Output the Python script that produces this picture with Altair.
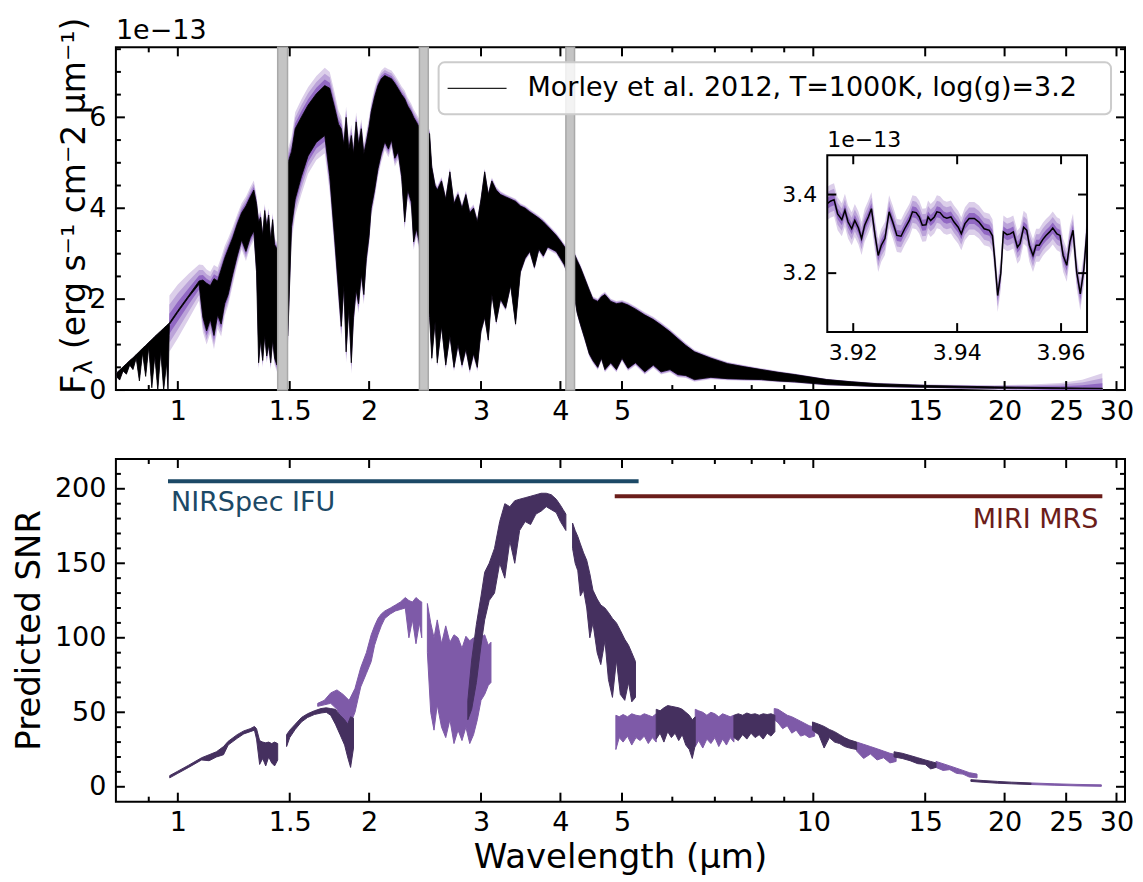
import altair as alt
import pandas as pd

# ---------------- layout / style constants ----------------
W, H = 1010, 343
GAP = 69
TICK_MAJ, TICK_MIN = 9, 5
FONT = "DejaVu Sans"
C_BAND3, C_BAND2, C_BAND1 = "#dccfea", "#bba3d9", "#9168c3"
C_SNR_DARK, C_SNR_LIGHT = "#45305f", "#7e5aa8"
C_GAP_FILL, C_GAP_EDGE = "#c4c4c4", "#a9a9a9"

# ---------------- axes values ----------------
x_domain = [0.799, 30.94]
x_major = [1, 1.5, 2, 3, 4, 5, 10, 15, 20, 25, 30]
x_minor = [0.9, 6, 7, 8, 9]
flux_domain = [0, 7.54]
flux_major = [0, 2, 4, 6]
flux_minor = [0.5, 1, 1.5, 2.5, 3, 3.5, 4.5, 5, 5.5, 6.5, 7, 7.5]
snr_domain = [-10, 220]
snr_major = [0, 50, 100, 150, 200]
snr_minor = [10, 20, 30, 40, 60, 70, 80, 90, 110, 120, 130, 140, 160, 170, 180, 190, 210]

# ---------------- model spectrum envelope (units of 1e-13) ----------------
spec_wl = [
    0.800, 0.810, 0.820, 0.830, 0.840, 0.850, 0.860, 0.870, 0.880, 0.890,
    0.900, 0.910, 0.920, 0.930, 0.940, 0.950, 0.960, 0.965, 0.969,
    0.970, 1.000, 1.040, 1.080, 1.095, 1.110, 1.125, 1.140, 1.155, 1.170,
    1.185, 1.200, 1.220, 1.240, 1.260, 1.280, 1.300, 1.317, 1.330, 1.340,
    1.350, 1.360, 1.370, 1.380, 1.390, 1.400, 1.410, 1.420, 1.432,
    1.490, 1.510, 1.530, 1.565, 1.603, 1.652, 1.703, 1.734, 1.766, 1.790,
    1.808, 1.825, 1.840, 1.858, 1.875, 1.890, 1.908, 1.925, 1.944, 1.962,
    1.980, 2.000, 2.015, 2.040, 2.065, 2.090, 2.117, 2.145, 2.169, 2.195,
    2.222, 2.250, 2.275, 2.300, 2.330, 2.350, 2.373, 2.395,
    2.490, 2.510, 2.540, 2.560, 2.600, 2.640, 2.680, 2.720, 2.760, 2.800,
    2.840, 2.880, 2.920, 2.960, 3.000, 3.040, 3.080, 3.120, 3.170, 3.220,
    3.280, 3.340, 3.400, 3.460, 3.520, 3.580, 3.640, 3.700, 3.760, 3.820,
    3.880, 3.940, 4.000, 4.060,
    4.215, 4.250, 4.300, 4.370, 4.440, 4.500, 4.580, 4.640, 4.700, 4.800,
    4.900, 5.000, 5.110, 5.250, 5.430, 5.600, 5.760, 5.950, 6.120, 6.300,
    6.500, 6.900, 7.330, 7.800, 8.280, 8.800, 9.340, 10.50, 11.50, 12.60,
    15.10, 19.30, 22.00, 24.50, 26.50, 28.50,
]
spec_hi = [
    0.37, 0.44, 0.51, 0.58, 0.65, 0.71, 0.78, 0.85, 0.92, 0.98,
    1.05, 1.11, 1.18, 1.24, 1.30, 1.36, 1.42, 1.45, 1.47,
    1.48, 1.75, 2.08, 2.40, 2.42, 2.35, 2.30, 2.45, 2.40, 2.65,
    2.90, 3.10, 3.35, 3.65, 3.90, 4.05, 4.25, 4.40, 4.10, 3.70,
    3.80, 3.40, 3.95, 3.60, 3.85, 3.30, 3.75, 3.20, 3.10,
    5.00, 5.25, 5.75, 6.01, 6.27, 6.52, 6.70, 6.64, 6.20, 5.85,
    5.75, 5.40, 6.00, 5.30, 5.60, 5.20, 5.90, 5.40, 5.75, 5.20,
    5.46, 5.80, 6.12, 6.45, 6.70, 6.85, 6.92, 6.88, 6.85, 6.75,
    6.63, 6.50, 6.41, 6.25, 6.12, 6.00, 5.90, 5.80,
    5.64, 4.90, 4.50, 4.40, 4.60, 4.20, 4.80, 4.10, 4.30, 4.00,
    4.30, 3.90, 4.00, 3.70, 4.20, 4.80, 4.30, 4.60, 4.40, 4.30,
    4.25, 4.20, 4.15, 4.05, 4.00, 3.92, 3.85, 3.78, 3.70, 3.60,
    3.50, 3.40, 3.28, 3.15,
    2.97, 2.85, 2.70, 2.45, 2.20, 2.00, 1.95, 2.05, 2.10, 1.95,
    1.90, 1.92, 1.87, 1.78, 1.65, 1.55, 1.43, 1.28, 1.13, 0.98,
    0.84, 0.70, 0.58, 0.51, 0.45, 0.39, 0.34, 0.23, 0.18, 0.14,
    0.10, 0.07, 0.06, 0.05, 0.045, 0.04,
]
spec_lo = [
    0.30, 0.22, 0.42, 0.35, 0.55, 0.45, 0.70, 0.20, 0.82, 0.30,
    0.95, 0.05, 0.75, 0.00, 0.85, 0.00, 0.60, 0.00, 1.20,
    1.44, 1.71, 2.04, 2.33, 1.60, 1.30, 1.55, 1.20, 1.65, 1.45,
    1.90, 2.10, 2.55, 2.95, 3.30, 3.05, 3.35, 3.50, 2.60, 0.60,
    1.10, 0.65, 1.20, 0.75, 1.00, 0.60, 1.10, 0.70, 0.55,
    1.20, 3.60, 4.20, 4.70, 5.15, 5.45, 5.60, 4.70, 3.30, 2.20,
    1.40, 2.30, 0.84, 1.80, 0.60, 1.60, 2.20, 1.90, 2.55, 2.10,
    2.90, 3.40, 4.00, 4.40, 4.87, 5.20, 5.46, 5.30, 5.50, 5.10,
    5.24, 4.70, 3.70, 4.40, 4.14, 3.26, 3.55, 3.30,
    1.60, 0.70, 1.50, 0.60, 1.40, 0.55, 1.20, 0.50, 1.00, 0.55,
    0.90, 0.45, 0.80, 0.50, 1.30, 1.60, 1.10, 2.10, 1.50, 2.00,
    1.80, 2.30, 1.45, 2.60, 2.90, 3.05, 2.70, 3.10, 2.95, 3.15,
    3.10, 3.05, 2.90, 2.75,
    2.00, 1.70, 1.45, 1.13, 0.80, 0.65, 0.50, 0.70, 0.45, 0.60,
    0.45, 0.70, 0.48, 0.60, 0.40, 0.55, 0.40, 0.45, 0.34, 0.32,
    0.23, 0.28, 0.25, 0.24, 0.23, 0.20, 0.18, 0.12, 0.10, 0.08,
    0.06, 0.04, 0.035, 0.03, 0.028, 0.025,
]
spec_err = [
    0, 0, 0, 0, 0, 0, 0, 0, 0, 0,
    0, 0, 0, 0, 0, 0, 0, 0, 0,
    0.20, 0.19, 0.16, 0.12, 0.11, 0.10, 0.10, 0.10, 0.10, 0.09,
    0.09, 0.08, 0.08, 0.07, 0.07, 0.07, 0.07, 0.07, 0.06, 0.05,
    0.05, 0.05, 0.05, 0.05, 0.05, 0.05, 0.05, 0.05, 0.05,
    0.10, 0.11, 0.12, 0.13, 0.13, 0.13, 0.13, 0.12, 0.11, 0.10,
    0.09, 0.09, 0.08, 0.08, 0.08, 0.08, 0.07, 0.07, 0.07, 0.07,
    0.07, 0.07, 0.065, 0.065, 0.06, 0.06, 0.06, 0.06, 0.06, 0.06,
    0.06, 0.06, 0.06, 0.06, 0.06, 0.06, 0.06, 0.06,
    0.03, 0.03, 0.03, 0.03, 0.03, 0.03, 0.03, 0.03, 0.03, 0.03,
    0.03, 0.03, 0.03, 0.03, 0.025, 0.025, 0.025, 0.025, 0.025, 0.025,
    0.02, 0.02, 0.02, 0.02, 0.02, 0.02, 0.02, 0.02, 0.02, 0.02,
    0.02, 0.02, 0.02, 0.02,
    0.02, 0.02, 0.02, 0.02, 0.02, 0.02, 0.02, 0.02, 0.02, 0.02,
    0.02, 0.02, 0.02, 0.02, 0.02, 0.02, 0.02, 0.02, 0.02, 0.018,
    0.016, 0.014, 0.012, 0.011, 0.010, 0.009, 0.008, 0.006, 0.006, 0.006,
    0.007, 0.012, 0.02, 0.035, 0.06, 0.11,
]

# wavelength gaps (grey bands)
gap_lo = [1.436, 2.400, 4.080]
gap_hi = [1.488, 2.478, 4.210]

legend_label = "Morley et al. 2012, T=1000K, log(g)=3.2"

# ---------------- inset (zoom around 3.94 um) ----------------
inset_x_domain = [3.915, 3.965]
inset_y_domain = [3.05, 3.50]
inset_x_ticks = [3.92, 3.94, 3.96]
inset_x_labels = ["3.92", "3.94", "3.96"]
inset_y_ticks = [3.2, 3.4]
inset_y_labels = ["3.2", "3.4"]
inset_sigma = 0.014
inset_wl = [
    3.9150, 3.9156, 3.9163, 3.9170, 3.9178, 3.9184, 3.9190, 3.9197, 3.9203, 3.9210,
    3.9216, 3.9222, 3.9229, 3.9235, 3.9242, 3.9248, 3.9254, 3.9261, 3.9269, 3.9276,
    3.9284, 3.9292, 3.9299, 3.9308, 3.9314, 3.9321, 3.9327, 3.9333, 3.9340, 3.9344,
    3.9349, 3.9356, 3.9361, 3.9367, 3.9374, 3.9380, 3.9388, 3.9394, 3.9402, 3.9408,
    3.9415, 3.9423, 3.9433, 3.9442, 3.9452, 3.9462, 3.9468, 3.9472, 3.9478, 3.9484,
    3.9489, 3.9496, 3.9502, 3.9508, 3.9516, 3.9521, 3.9528, 3.9534, 3.9539, 3.9546,
    3.9552, 3.9558, 3.9565, 3.9571, 3.9578, 3.9584, 3.9592, 3.9598, 3.9604, 3.9611,
    3.9617, 3.9623, 3.9630, 3.9637, 3.9644, 3.9650,
]
inset_flux = [
    3.377, 3.383, 3.387, 3.351, 3.336, 3.360, 3.330, 3.313, 3.334, 3.315,
    3.288, 3.322, 3.343, 3.364, 3.296, 3.245, 3.271, 3.288, 3.356, 3.330,
    3.296, 3.294, 3.313, 3.334, 3.356, 3.354, 3.343, 3.322, 3.323, 3.343,
    3.334, 3.343, 3.356, 3.354, 3.343, 3.340, 3.343, 3.330, 3.317, 3.300,
    3.326, 3.339, 3.339, 3.330, 3.313, 3.309, 3.295, 3.240, 3.143, 3.200,
    3.305, 3.298, 3.300, 3.305, 3.266, 3.275, 3.317, 3.309, 3.271, 3.245,
    3.271, 3.271, 3.286, 3.296, 3.305, 3.315, 3.300, 3.296, 3.245, 3.220,
    3.279, 3.309, 3.203, 3.147, 3.211, 3.313,
]
INSET_X0, INSET_X1, INSET_Y0, INSET_Y1 = 712, 972, 108, 285

# ---------------- predicted SNR segments ----------------
seg_names = ["n1", "n2", "n3", "n4", "n5", "n6",
             "m1", "m2", "m3", "m4", "m5", "m6", "m7", "m8", "m9", "m10", "m11"]
seg_tones = ["dark", "dark", "light", "light", "dark", "dark",
             "light", "dark", "light", "dark", "light", "dark", "light", "dark", "light", "dark", "light"]
seg_wl = [
    [0.971, 1.00, 1.04, 1.09, 1.12, 1.15, 1.18, 1.20, 1.24, 1.27, 1.30, 1.32, 1.33, 1.345, 1.36, 1.375, 1.39, 1.405, 1.42, 1.436],
    [1.483, 1.50, 1.53, 1.565, 1.60, 1.64, 1.68, 1.712, 1.74, 1.77, 1.80, 1.83, 1.85, 1.87, 1.89],
    [1.66, 1.70, 1.74, 1.78, 1.82, 1.86, 1.90, 1.94, 1.98, 2.015, 2.04, 2.065, 2.09, 2.117, 2.16, 2.20, 2.24, 2.28, 2.31, 2.34, 2.37, 2.40, 2.42],
    [2.47, 2.50, 2.53, 2.56, 2.60, 2.64, 2.68, 2.72, 2.76, 2.80, 2.84, 2.88, 2.92, 2.96, 3.00, 3.04, 3.08, 3.11],
    [2.86, 2.90, 2.95, 3.00, 3.04, 3.09, 3.15, 3.21, 3.27, 3.33, 3.39, 3.45, 3.52, 3.59, 3.66, 3.73, 3.80, 3.87, 3.94, 4.00, 4.04, 4.08],
    [4.18, 4.22, 4.26, 4.30, 4.35, 4.40, 4.45, 4.50, 4.57, 4.63, 4.70, 4.76, 4.83, 4.90, 4.97, 5.05, 5.12, 5.18, 5.25],
    [4.89, 4.95, 5.02, 5.10, 5.18, 5.26, 5.34, 5.42, 5.50, 5.58, 5.66],
    [5.66, 5.74, 5.82, 5.90, 5.98, 6.06, 6.14, 6.22, 6.30, 6.38, 6.45, 6.52],
    [6.52, 6.60, 6.70, 6.80, 6.90, 7.00, 7.10, 7.20, 7.30, 7.40, 7.50],
    [7.50, 7.62, 7.74, 7.86, 7.98, 8.10, 8.22, 8.34, 8.46, 8.58, 8.70],
    [8.68, 8.80, 8.95, 9.10, 9.25, 9.40, 9.55, 9.70, 9.85, 10.05],
    [9.97, 10.2, 10.4, 10.6, 10.8, 11.0, 11.2, 11.4, 11.7],
    [11.7, 12.0, 12.3, 12.6, 12.9, 13.2, 13.5],
    [13.4, 13.8, 14.2, 14.6, 15.0, 15.3, 15.6],
    [15.6, 16.0, 16.4, 16.8, 17.2, 17.6, 18.1],
    [17.7, 18.5, 19.5, 20.5, 22.0],
    [22.0, 24.0, 26.0, 28.4],
]
seg_hi = [
    [7.5, 10.5, 14.5, 19.5, 21.5, 23.5, 27, 30.5, 35, 37.5, 39, 40.5, 39, 31, 30, 29.5, 30, 29, 30, 29],
    [35, 38, 42, 46.5, 49, 51, 52.5, 53, 52.5, 52, 48, 45, 42, 47, 46],
    [56, 58, 63, 65, 62, 58, 66, 80, 90, 102, 108, 113, 116, 118, 120, 122, 124, 127, 125, 124, 127, 125, 124],
    [123, 110, 100, 112, 96, 108, 97, 102, 100, 93, 101, 98, 100, 88, 100, 102, 95, 97],
    [58, 85, 109, 128, 144, 150, 160, 178, 190, 188, 192, 193, 194, 195, 196, 197, 197, 196, 193, 189, 186, 183],
    [177, 172, 168, 163, 157, 152, 143, 132, 126, 122, 120, 117, 113, 110, 105, 99, 95, 90, 84],
    [48, 47, 48.5, 47, 49, 48, 47.5, 49, 48, 47, 49],
    [52, 51, 53, 54.5, 54, 53.5, 53, 52, 50, 48, 45, 47],
    [52, 51, 50, 48, 50, 49, 47, 49, 48, 47, 48],
    [48, 49, 48, 49.5, 48.5, 49, 48, 49, 48.5, 49, 48],
    [52.5, 52, 50, 48, 47, 45.5, 44, 42.5, 41, 40],
    [43.5, 42, 40.5, 38.5, 37, 35, 33, 31.5, 30],
    [30, 28.5, 27, 25.5, 24, 22.5, 21.5],
    [23.5, 22.5, 21, 19.5, 18, 17, 16],
    [17, 15.5, 14, 12.5, 11, 9.5, 8.5],
    [4.8, 4.2, 3.6, 3.1, 2.6],
    [2.6, 2.0, 1.6, 1.3],
]
seg_lo = [
    [6, 9, 13, 18, 17.5, 20, 21.5, 28, 32.5, 35.5, 37, 38, 32, 15, 19, 14, 20, 16, 14, 18],
    [27, 33, 38.5, 43.5, 46.5, 48.5, 49.5, 50, 48, 42, 35, 28, 20, 13, 26],
    [54, 55, 56, 52, 44, 40, 50, 67, 76, 84, 95, 102, 108, 113, 116, 118, 119, 120, 100, 112, 96, 110, 100],
    [90, 50, 38, 55, 40, 33, 45, 29, 38, 31, 40, 29, 35, 45, 58, 62, 68, 70],
    [45, 52, 70, 95, 112, 125, 130, 150, 140, 165, 150, 172, 178, 176, 183, 185, 188, 186, 184, 178, 175, 172],
    [160, 150, 145, 128, 132, 120, 100, 110, 90, 82, 98, 72, 60, 85, 62, 58, 70, 57, 60],
    [25, 33, 30, 34, 28, 33, 31, 34, 29, 33, 30],
    [32, 36, 30, 37, 33, 36, 31, 35, 28, 25, 19, 28],
    [27, 31, 26, 32, 29, 33, 27, 32, 28, 33, 30],
    [33, 31, 35, 32, 36, 33, 35, 32, 36, 34, 37],
    [45, 43, 39, 41, 36, 38, 34, 35, 33, 34],
    [38, 35, 26, 33, 30, 29, 27, 26, 25],
    [24, 19, 22, 18, 19.5, 16, 17],
    [20, 19, 17.5, 15.5, 15, 12, 13],
    [13, 11, 11.5, 9, 8.5, 6.5, 6],
    [3.6, 3.0, 2.4, 2.0, 1.5],
    [1.5, 1.0, 0.6, 0.3],
]

# instrument coverage bars
inst_name = ["NIRSpec IFU", "MIRI MRS"]
inst_wl_start = [0.965, 4.87]
inst_wl_end = [5.31, 28.5]
inst_snr = [205, 195]
inst_color = ["#1c4966", "#6b1d1a"]

# ---------------- frames ----------------
spec_df = pd.DataFrame({"wl": spec_wl, "hi": spec_hi, "lo": spec_lo, "err": spec_err})
gaps_df = pd.DataFrame({"wl": gap_lo, "wl_end": gap_hi})
inset_df = pd.DataFrame({"wl": inset_wl, "flux": inset_flux})
rows = []
for name, tone, wls, his, los in zip(seg_names, seg_tones, seg_wl, seg_hi, seg_lo):
    for w, h, l in zip(wls, his, los):
        rows.append({"seg": name, "tone": tone, "wl": w, "hi": h, "lo": l})
snr_df = pd.DataFrame(rows)
inst_df = pd.DataFrame({"name": inst_name, "wl": inst_wl_start, "wl_end": inst_wl_end, "val": inst_snr})

# ---------------- encodings ----------------
xscale = alt.Scale(type="log", domain=x_domain, nice=False)
x_axis = alt.Axis(values=x_major, format="~g", title=None, ticks=False, domain=False, grid=False,
                  labelFontSize=27, labelPadding=8, labelOverlap=False, labelFlush=False,
                  labelFont=FONT, labelColor="black")


def X(f):
    return alt.X(f, type="quantitative", scale=xscale, axis=x_axis)


def make_y(domain, values):
    sc = alt.Scale(domain=domain, nice=False, zero=False)
    ax = alt.Axis(values=values, format="d", title=None, ticks=False, domain=False, grid=False,
                  labelFontSize=27, labelPadding=10, labelFont=FONT, labelColor="black")

    def Y(f):
        return alt.Y(f, type="quantitative", scale=sc, axis=ax)
    return Y


Y1 = make_y(flux_domain, flux_major)
Y2s = make_y(snr_domain, snr_major)


def one(text):
    return pd.DataFrame({"t": [text]})


def x_ticks(values, length):
    df = pd.DataFrame({"wl": values})
    base = alt.Chart(df).mark_rule(color="black", strokeWidth=2)
    return [base.encode(x=X("wl"), y=alt.value(H), y2=alt.value(H - length)),
            base.encode(x=X("wl"), y=alt.value(0), y2=alt.value(length))]


def y_ticks(Y, values, length):
    df = pd.DataFrame({"val": values})
    base = alt.Chart(df).mark_rule(color="black", strokeWidth=2)
    return [base.encode(y=Y("val"), x=alt.value(0), x2=alt.value(length)),
            base.encode(y=Y("val"), x=alt.value(W - length), x2=alt.value(W))]


# ---------------- top panel ----------------
def band(k, color):
    return alt.Chart(spec_df).transform_calculate(
        b_lo=f"datum.lo - {k} * datum.err", b_hi=f"datum.hi + {k} * datum.err"
    ).mark_area(color=color, clip=True).encode(x=X("wl"), y=Y1("b_lo"), y2=alt.Y2("b_hi"))


main_layers = [
    band(3, C_BAND3), band(2, C_BAND2), band(1, C_BAND1),
    alt.Chart(spec_df).mark_area(color="black", stroke="black", strokeWidth=0.8, clip=True)
    .encode(x=X("wl"), y=Y1("lo"), y2=alt.Y2("hi")),
    alt.Chart(gaps_df).mark_rect(fill=C_GAP_FILL, stroke=C_GAP_EDGE, strokeWidth=1.5)
    .encode(x=X("wl"), x2=alt.X2("wl_end"), y=alt.value(0), y2=alt.value(H)),
    # legend
    alt.Chart(one(legend_label)).mark_rect(fill="white", fillOpacity=0.8, stroke="#cccccc",
                                           strokeWidth=2, cornerRadius=6)
    .encode(x=alt.value(323), x2=alt.value(996), y=alt.value(15), y2=alt.value(67)),
    alt.Chart(one(legend_label)).mark_rule(color="#222222", strokeWidth=1.2)
    .encode(x=alt.value(332), x2=alt.value(391), y=alt.value(41)),
    alt.Chart(one(legend_label)).mark_text(align="left", baseline="middle", fontSize=27, font=FONT,
                                           color="black")
    .encode(x=alt.value(412), y=alt.value(41), text="t:N"),
]
main_layers += x_ticks(x_major, TICK_MAJ) + x_ticks(x_minor, TICK_MIN)
main_layers += y_ticks(Y1, flux_major, TICK_MAJ) + y_ticks(Y1, flux_minor, TICK_MIN)
main_layers += [
    alt.Chart(one("1e\u221213")).mark_text(align="left", baseline="alphabetic", fontSize=27, font=FONT,
                                           color="black")
    .encode(x=alt.value(0), y=alt.value(-8), text="t:N"),
    alt.Chart(one("F")).mark_text(align="left", baseline="middle", angle=270, fontSize=34, font=FONT,
                                  color="black")
    .encode(x=alt.value(-41), y=alt.value(347), text="t:N"),
    alt.Chart(one("\u03bb")).mark_text(align="left", baseline="middle", angle=270, fontSize=24, font=FONT,
                                       color="black")
    .encode(x=alt.value(-31), y=alt.value(327.5), text="t:N"),
    alt.Chart(one("(erg s\u207b\u00b9 cm\u207b2 \u03bcm\u207b\u00b9)")).mark_text(
        align="left", baseline="middle", angle=270, fontSize=33, font=FONT, color="black")
    .encode(x=alt.value(-41), y=alt.value(302), text="t:N"),
]

# inset
ixs = alt.Scale(domain=inset_x_domain, range=[INSET_X0, INSET_X1], nice=False, zero=False)
iys = alt.Scale(domain=inset_y_domain, range=[INSET_Y1, INSET_Y0], nice=False, zero=False)


def IX(f):
    return alt.X(f, type="quantitative", scale=ixs, axis=None)


def IY(f):
    return alt.Y(f, type="quantitative", scale=iys, axis=None)


frame_df = pd.DataFrame({"x0": [inset_x_domain[0]], "x1": [inset_x_domain[1]],
                         "y0": [inset_y_domain[0]], "y1": [inset_y_domain[1]]})


def iband(k, color):
    return alt.Chart(inset_df).transform_calculate(
        b_lo=f"datum.flux - {k} * {inset_sigma}", b_hi=f"datum.flux + {k} * {inset_sigma}"
    ).mark_area(color=color).encode(x=IX("wl"), y=IY("b_lo"), y2=alt.Y2("b_hi"))


ixt = pd.DataFrame({"t": inset_x_ticks, "s": inset_x_labels})
iyt = pd.DataFrame({"t": inset_y_ticks, "s": inset_y_labels})
inset_layers = [
    alt.Chart(frame_df).mark_rect(fill="white")
    .encode(x=IX("x0"), x2=alt.X2("x1"), y=IY("y0"), y2=alt.Y2("y1")),
    iband(3, C_BAND3), iband(2, C_BAND2), iband(1, C_BAND1),
    alt.Chart(inset_df).mark_line(color="black", strokeWidth=1.5).encode(x=IX("wl"), y=IY("flux")),
    alt.Chart(ixt).mark_rule(color="black", strokeWidth=2)
    .encode(x=IX("t"), y=alt.value(INSET_Y1), y2=alt.value(INSET_Y1 - TICK_MAJ)),
    alt.Chart(ixt).mark_rule(color="black", strokeWidth=2)
    .encode(x=IX("t"), y=alt.value(INSET_Y0), y2=alt.value(INSET_Y0 + TICK_MAJ)),
    alt.Chart(iyt).mark_rule(color="black", strokeWidth=2)
    .encode(y=IY("t"), x=alt.value(INSET_X0), x2=alt.value(INSET_X0 + TICK_MAJ)),
    alt.Chart(iyt).mark_rule(color="black", strokeWidth=2)
    .encode(y=IY("t"), x=alt.value(INSET_X1 - TICK_MAJ), x2=alt.value(INSET_X1)),
    alt.Chart(frame_df).mark_rect(fillOpacity=0, stroke="black", strokeWidth=2)
    .encode(x=IX("x0"), x2=alt.X2("x1"), y=IY("y0"), y2=alt.Y2("y1")),
    alt.Chart(ixt).mark_text(align="center", baseline="alphabetic", fontSize=22, font=FONT, color="black")
    .encode(x=IX("t"), y=alt.value(INSET_Y1 + 28), text="s:N"),
    alt.Chart(iyt).mark_text(align="right", baseline="middle", fontSize=22, font=FONT, color="black")
    .encode(y=IY("t"), x=alt.value(INSET_X0 - 10), text="s:N"),
    alt.Chart(one("1e\u221213")).mark_text(align="left", baseline="alphabetic", fontSize=22, font=FONT,
                                           color="black")
    .encode(x=alt.value(INSET_X0), y=alt.value(INSET_Y0 - 8), text="t:N"),
]

top = alt.layer(alt.layer(*main_layers), alt.layer(*inset_layers)).resolve_scale(
    x="independent", y="independent").properties(width=W, height=H)

# ---------------- bottom panel ----------------
bottom_layers = []
for tone, color in [("light", C_SNR_LIGHT), ("dark", C_SNR_DARK)]:
    bottom_layers.append(
        alt.Chart(snr_df).transform_filter(f"datum.tone == '{tone}'")
        .mark_area(color=color, stroke=color, strokeWidth=1, clip=True)
        .encode(x=X("wl"), y=Y2s("lo"), y2=alt.Y2("hi"), detail="seg:N")
    )
bottom_layers.append(
    alt.Chart(inst_df).mark_rule(strokeWidth=4)
    .encode(x=X("wl"), x2=alt.X2("wl_end"), y=Y2s("val"),
            color=alt.Color("name:N", scale=alt.Scale(domain=inst_name, range=inst_color), legend=None))
)
bottom_layers.append(
    alt.Chart(inst_df.iloc[[0]]).mark_text(align="left", baseline="alphabetic", fontSize=27, font=FONT,
                                           dx=3, dy=30, color=inst_color[0])
    .encode(x=X("wl"), y=Y2s("val"), text="name:N")
)
bottom_layers.append(
    alt.Chart(inst_df.iloc[[1]]).mark_text(align="right", baseline="alphabetic", fontSize=27, font=FONT,
                                           dx=-4, dy=32, color=inst_color[1])
    .encode(x=X("wl_end"), y=Y2s("val"), text="name:N")
)
bottom_layers += x_ticks(x_major, TICK_MAJ) + x_ticks(x_minor, TICK_MIN)
bottom_layers += y_ticks(Y2s, snr_major, TICK_MAJ) + y_ticks(Y2s, snr_minor, TICK_MIN)
bottom_layers += [
    alt.Chart(one("Predicted SNR")).mark_text(align="center", baseline="middle", angle=270, fontSize=34,
                                              font=FONT, color="black")
    .encode(x=alt.value(-86), y=alt.value(H / 2), text="t:N"),
    alt.Chart(one("Wavelength (\u03bcm)")).mark_text(align="center", baseline="middle", fontSize=34,
                                                      font=FONT, color="black")
    .encode(x=alt.value(W / 2), y=alt.value(H + 56), text="t:N"),
]
bottom = alt.layer(*bottom_layers).properties(width=W, height=H)

chart = alt.vconcat(top, bottom, spacing=GAP, bounds="flush").properties(
    padding={"left": 4, "top": 8, "right": 0, "bottom": 0}
).configure(font=FONT).configure_view(stroke="black", strokeWidth=2)

chart.save("out.html", embed_options={"renderer": "svg", "actions": False})
